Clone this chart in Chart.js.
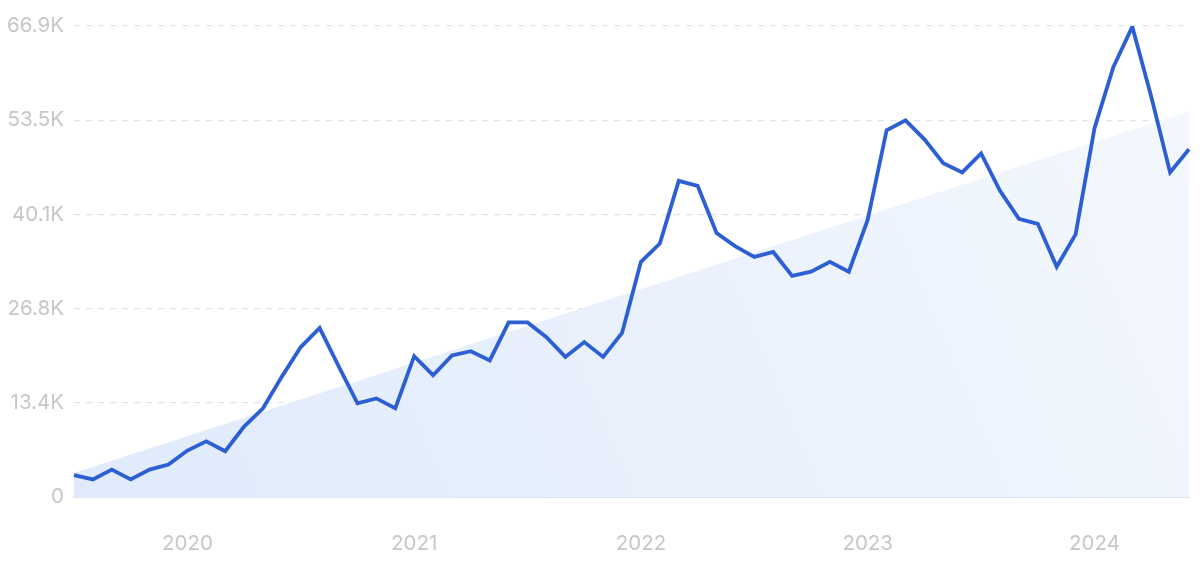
<!DOCTYPE html>
<html>
<head>
<meta charset="utf-8">
<script src="https://cdn.jsdelivr.net/npm/chart.js@4/dist/chart.umd.min.js"></script>
<style>
  html, body { margin: 0; padding: 0; background: #fff; }
  #wrap { width: 1200px; height: 561px; position: relative; }
</style>
</head>
<body>
<div id="wrap"><canvas id="trendChart"></canvas></div>
<script>
// monthly points, Jul 2019 .. Jun 2024
const months = [
  "2019-07","2019-08","2019-09","2019-10","2019-11","2019-12",
  "2020-01","2020-02","2020-03","2020-04","2020-05","2020-06","2020-07","2020-08","2020-09","2020-10","2020-11","2020-12",
  "2021-01","2021-02","2021-03","2021-04","2021-05","2021-06","2021-07","2021-08","2021-09","2021-10","2021-11","2021-12",
  "2022-01","2022-02","2022-03","2022-04","2022-05","2022-06","2022-07","2022-08","2022-09","2022-10","2022-11","2022-12",
  "2023-01","2023-02","2023-03","2023-04","2023-05","2023-06","2023-07","2023-08","2023-09","2023-10","2023-11","2023-12",
  "2024-01","2024-02","2024-03","2024-04","2024-05","2024-06"
]
const searches = [
  3100, 2500, 3900, 2500, 3900, 4600,
  6600, 7900, 6500, 10000, 12600, 17100, 21300, 24000, 18600, 13300, 14000, 12600,
  20000, 17300, 20100, 20700, 19400, 24800, 24800, 22700, 19900, 22000, 19900, 23300,
  33400, 36000, 44900, 44200, 37500, 35600, 34100, 34800, 31400, 32000, 33400, 32000,
  39400, 52100, 53500, 50800, 47400, 46100, 48800, 43500, 39500, 38800, 32700, 37300,
  52400, 61100, 66800, 56900, 46100, 49400
]
// trend line end points (first and last month)
const trendStart = 3400
const trendEnd = 54800

const yTickValues = [0, 13380, 26760, 40140, 53520, 66900]
const yTickLabels = ["0", "13.4K", "26.8K", "40.1K", "53.5K", "66.9K"]

const textColor = "#c6c6cb"
const font = { family: "Inter, 'Noto Sans', sans-serif", size: 20.5 }

function trendFill(ctx) {
    const area = ctx.chart.chartArea
    if (!area) return "#e8f1fd"
    const g = ctx.chart.ctx.createLinearGradient(area.left, area.bottom, area.right, area.top)
    g.addColorStop(0, "#dfeafb")
    g.addColorStop(1, "#f4f8fe")
    return g
}

new Chart("trendChart", {
    type: "line",
    data: {
        labels: months,
        datasets: [{
            data: searches,
            borderColor: "#2d5fd4",
            borderWidth: 3.8,
            pointRadius: 0,
            tension: 0,
            fill: false,
            order: 0
        }, {
            data: [{x: months[0], y: trendStart}, {x: months[months.length - 1], y: trendEnd}],
            borderWidth: 0,
            borderColor: "rgba(0,0,0,0)",
            backgroundColor: trendFill,
            pointRadius: 0,
            fill: "origin",
            order: 1
        }]
    },
    options: {
        responsive: true,
        maintainAspectRatio: false,
        animation: false,
        layout: { padding: { top: 26, right: 11, left: 0, bottom: 0 } },
        plugins: { legend: { display: false }, tooltip: { enabled: false } },
        scales: {
            x: {
                offset: false,
                grid: { display: false, drawTicks: false },
                border: { display: true, color: "#dde6f2", width: 2 },
                afterFit: s => { s.height = 64 },
                ticks: {
                    autoSkip: false,
                    maxRotation: 0,
                    padding: 35,
                    color: textColor,
                    font: font,
                    callback: function (v, i) {
                        const m = months[i]
                        return m.endsWith("-01") ? m.slice(0, 4) : null
                    }
                }
            },
            y: {
                min: 0,
                max: 66900,
                afterFit: s => { s.width = 74 },
                afterBuildTicks: s => { s.ticks = yTickValues.map(v => ({ value: v })) },
                grid: {
                    drawTicks: false,
                    color: c => c.tick.value === 0 ? "rgba(0,0,0,0)" : "#dce3ef",
                    lineWidth: 1.2
                },
                border: { display: false, dash: [6, 6] },
                ticks: {
                    padding: 10,
                    color: textColor,
                    font: font,
                    callback: v => yTickLabels[yTickValues.indexOf(v)]
                }
            }
        }
    }
})
</script>
</body>
</html>
